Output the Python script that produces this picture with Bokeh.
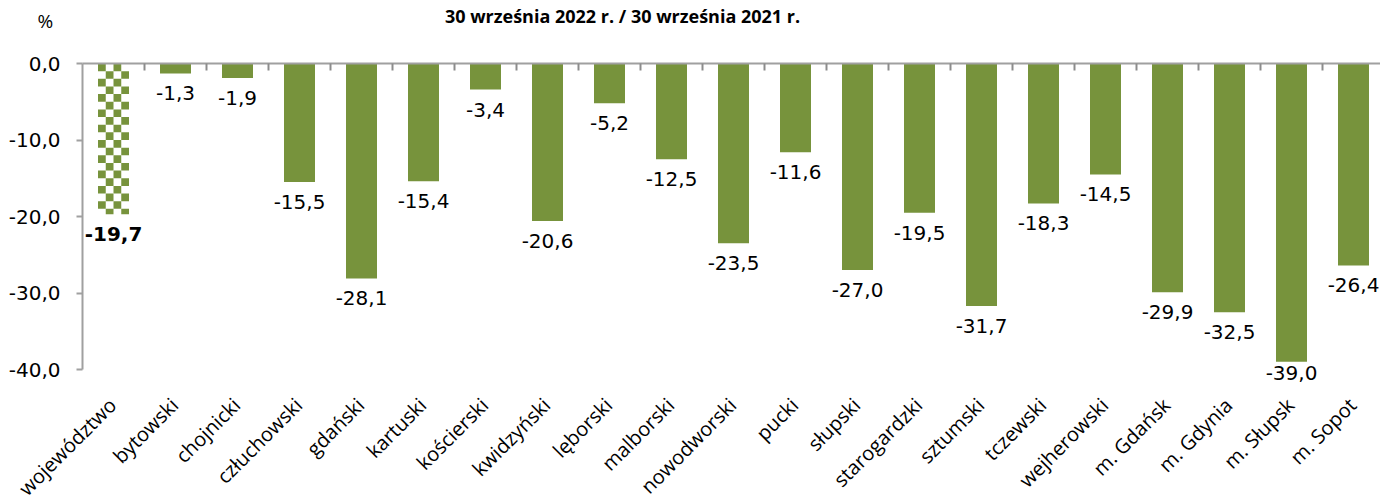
import math
from bokeh.plotting import figure
from bokeh.layouts import column
from bokeh.models import ColumnDataSource, Range1d, FixedTicker, LinearAxis
from bokeh.core.properties import value, field
from bokeh.embed import file_html
from bokeh.resources import INLINE

# ---------------- data ----------------
categories = ["województwo", "bytowski", "chojnicki", "człuchowski", "gdański", "kartuski",
              "kościerski", "kwidzyński", "lęborski", "malborski", "nowodworski", "pucki",
              "słupski", "starogardzki", "sztumski", "tczewski", "wejherowski", "m. Gdańsk",
              "m. Gdynia", "m. Słupsk", "m. Sopot"]
values = [-19.7, -1.3, -1.9, -15.5, -28.1, -15.4, -3.4, -20.6, -5.2, -12.5, -23.5, -11.6,
          -27.0, -19.5, -31.7, -18.3, -14.5, -29.9, -32.5, -39.0, -26.4]
y_ticks = [0, -10, -20, -30, -40]
title_text = "30 września 2022 r. / 30 września 2021 r."
unit_text = "%"

# ---------------- style / layout constants ----------------
GREEN = "#77933C"
AXIS_GRAY = "#A0A0A0"
FONT = "Open Sans"
NUMFONT = "DejaVu Sans"
BAR_W = 0.5
W, H = 1380, 495
HEAD_H = 40          # header strip (title, unit)
MAIN_H = H - HEAD_H  # main plot strip
LEFT = 82            # x of the value axis
ZERO_Y = 63          # y of the zero line on the page
CAT_PX = 62.0        # pixels per category
AXIS_PX = 306        # pixels from 0 to -40

n = len(categories)
xs = list(range(n))
fmt = lambda v: f"{v:.1f}".replace(".", ",")
y_min, y_max = min(y_ticks), max(y_ticks)
ppu = AXIS_PX / (y_max - y_min)          # pixels per % point
x0 = -0.5                                # left edge of first category
xr0 = x0 - LEFT / CAT_PX
xr1 = xr0 + W / CAT_PX
yr1 = y_max + (ZERO_Y - HEAD_H) / ppu
yr0 = y_max - (H - ZERO_Y) / ppu

# ---------------- header ----------------
head = figure(width=W, height=HEAD_H, output_backend="svg", toolbar_location=None,
              x_range=Range1d(0, W), y_range=Range1d(HEAD_H, 0),
              x_axis_location=None, y_axis_location=None,
              min_border=0, outline_line_color=None)
head.grid.visible = False
head.text(x=[622], y=[15], text=[title_text], text_align="center",
          text_baseline="alphabetic", text_font=value(FONT), text_font_size="18px",
          text_font_style="bold", text_color="black")
head.text(x=[37], y=[20], text=[unit_text], text_align="left", text_baseline="middle",
          text_font=value(FONT), text_font_size="19px", text_color="black")

# ---------------- main plot ----------------
src_main = ColumnDataSource(dict(x=xs[1:], top=values[1:]))

# checkered bar for the first category, built from its value
cols, cell_h = 4, 1.0
cell_w = BAR_W / cols
v0 = values[0]
rows = int(math.ceil(-v0 / cell_h))
L, R, T, B = [], [], [], []
for r in range(rows):
    for c in range(cols):
        if (r + c) % 2 == 0:
            L.append(xs[0] - BAR_W / 2 + c * cell_w)
            R.append(xs[0] - BAR_W / 2 + (c + 1) * cell_w)
            T.append(-r * cell_h)
            B.append(max(-(r + 1) * cell_h, v0))
src_check = ColumnDataSource(dict(left=L, right=R, top=T, bottom=B))

src_lab = ColumnDataSource(dict(
    x=xs,
    y=[max(v, -37.8) for v in values],
    text=[fmt(v) for v in values],
    style=["bold"] + ["normal"] * (n - 1),
))
src_cat = ColumnDataSource(dict(x=xs, y=[y_min] * n, text=categories))

p = figure(width=W, height=MAIN_H, output_backend="svg", toolbar_location=None,
           x_range=Range1d(xr0, xr1), y_range=Range1d(yr0, yr1),
           x_axis_location=None, min_border=0)
p.outline_line_color = None
p.grid.visible = False

p.vbar(x="x", top=0, bottom="top", width=BAR_W, source=src_main,
       fill_color=GREEN, line_color=None)
p.quad(left="left", right="right", top="top", bottom="bottom", source=src_check,
       fill_color=GREEN, line_color=None)

# value labels
p.text(x="x", y="y", text="text", source=src_lab, text_align="center",
       text_baseline="alphabetic", y_offset=20, text_font=value(NUMFONT),
       text_font_size="20px", text_color="black", text_font_style=field("style"))

# rotated category labels under the value axis minimum
p.text(x="x", y="y", text="text", source=src_cat, angle=math.pi / 4,
       text_align="right", text_baseline="middle", x_offset=-1, y_offset=32,
       text_font=value(FONT), text_font_size="20px", text_color="black")

# zero line with category-boundary ticks
top_axis = LinearAxis(ticker=FixedTicker(ticks=[i + 0.5 for i in range(n - 1)]),
                      fixed_location=y_max, bounds=(x0, xr1),
                      major_label_text_color=None, major_label_standoff=0,
                      major_label_text_font_size="4px",
                      axis_line_color=AXIS_GRAY, axis_line_width=2,
                      major_tick_line_color="#8C8C8C", major_tick_line_width=2,
                      major_tick_in=7, major_tick_out=0,
                      minor_tick_line_color=None)
p.add_layout(top_axis, "above")

ya = p.yaxis[0]
ya.fixed_location = x0
ya.bounds = (y_min, y_max)
ya.ticker = FixedTicker(ticks=y_ticks)
ya.major_label_overrides = {t: fmt(t) for t in y_ticks}
ya.axis_line_color = AXIS_GRAY
ya.axis_line_width = 2
ya.major_tick_line_color = AXIS_GRAY
ya.major_tick_line_width = 2
ya.major_tick_out = 6
ya.major_tick_in = 0
ya.minor_tick_line_color = None
ya.major_label_text_font = NUMFONT
ya.major_label_text_font_size = "20px"
ya.major_label_text_color = "black"
ya.major_label_standoff = 16

layout = column(head, p, spacing=0)
open("out.html", "w").write(file_html(layout, INLINE))
